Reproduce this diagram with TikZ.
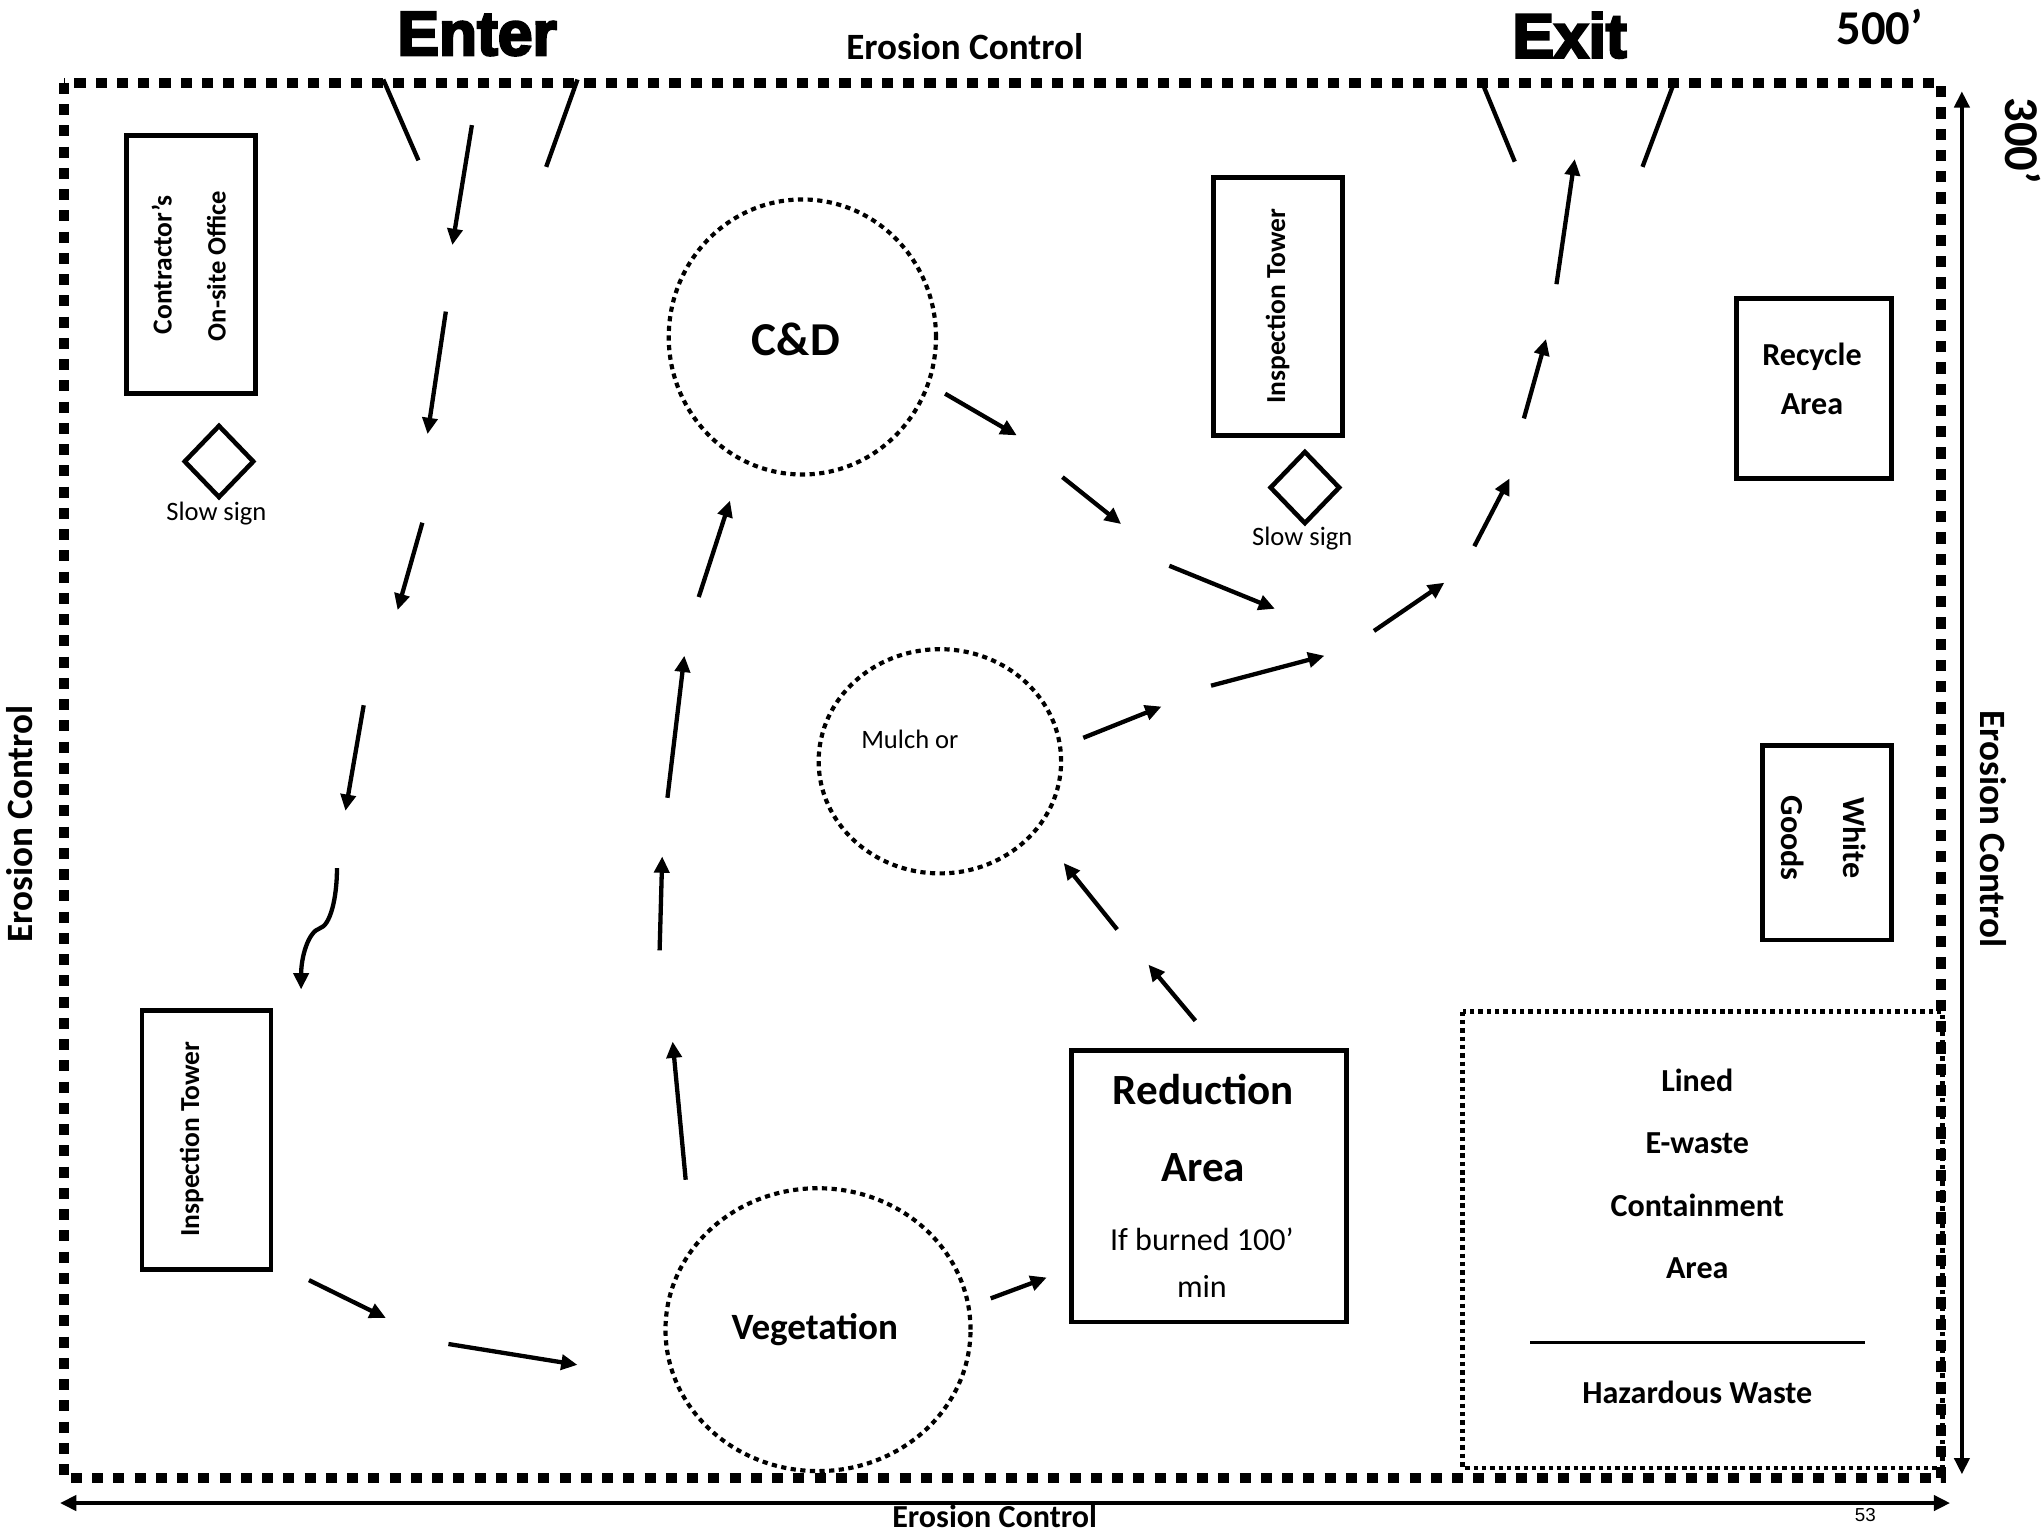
\documentclass[tikz,border=0pt]{standalone}
\usepackage{fontspec}
\setmainfont{Carlito}
\newfontfamily\heavyfont[BoldFeatures={FakeBold=4}]{Liberation Sans}
\newfontfamily\pagefont{Liberation Sans}
\usetikzlibrary{arrows.meta}
\usetikzlibrary{positioning}
\usetikzlibrary{shapes.geometric}
\tikzset{
  perimeter/.style={line width=0.08cm, dash pattern=on 0.085cm off 0.078cm},
  pile/.style={draw, ellipse, line width=0.032cm, dash pattern=on 0.04cm off 0.034cm, inner sep=0pt},
  plot/.style={draw, line width=0.036cm, inner sep=0pt},
  sign/.style={draw, diamond, line width=0.035cm, minimum width=0.54cm, minimum height=0.56cm, inner sep=0pt},
  flow/.style={line width=0.033cm, -{Triangle[length=0.125cm, width=0.115cm]}},
  gate/.style={line width=0.033cm},
  extent/.style={line width=0.035cm, {Triangle[length=0.125cm, width=0.115cm]}-{Triangle[length=0.125cm, width=0.115cm]}},
  small/.style={font=\fontsize{5.8}{7}\selectfont},
  tower/.style={font=\bfseries\fontsize{6}{7}\selectfont, rotate=90},
  label/.style={font=\bfseries\fontsize{7}{9}\selectfont},
  erosion/.style={font=\bfseries\fontsize{8.1}{10}\selectfont},
  size/.style={font=\bfseries\fontsize{10.6}{12}\selectfont},
  big/.style={font=\bfseries\fontsize{9.4}{11}\selectfont},
  huge/.style={font=\heavyfont\bfseries\fontsize{13.6}{15}\selectfont}
}

\begin{document}
\begin{tikzpicture}[y=-1cm]
    \useasboundingbox (0, 0) rectangle (15.68, 11.745);

    % site boundary
    \draw [perimeter] (0.49, 0.635) rectangle (14.89, 11.34);

    \node [huge] (enter) at (3.66, 0.26) {Enter};
    \node [huge] (exit) at (12.04, 0.27) {Exit};
    \node [size] (length) at (14.42, 0.21) {500’};
    \node [size, rotate=-90] (width) at (15.52, 1.08) {300’};
    \node [erosion] (erosiontop) at (7.40, 0.36) {Erosion Control};
    \node [erosion, rotate=90] (erosionleft) at (0.15, 6.32) {Erosion Control};
    \node [erosion, rotate=-90] (erosionright) at (15.29, 6.36) {Erosion Control};
    \node [label, inner ysep=0pt] (erosionbottom) at (7.63, 11.635) {Erosion Control};
    \node [font=\pagefont\fontsize{4.1}{5}\selectfont] (page) at (14.31, 11.62) {53};

    \draw [extent] (15.05, 0.70) -- (15.05, 11.31);
    \draw [extent] (0.46, 11.53) -- (14.96, 11.53);

    % gates
    \draw [gate] (2.94, 0.61) -- (3.21, 1.23);
    \draw [gate] (4.43, 0.61) -- (4.19, 1.28);
    \draw [gate] (11.36, 0.61) -- (11.62, 1.24);
    \draw [gate] (12.84, 0.64) -- (12.60, 1.28);

    % buildings and areas
    \draw [plot] (0.97, 1.04) rectangle (1.96, 3.02);
    \node [tower] (contractor) at (1.24, 2.03) {Contractor’s};
    \node [tower, font=\bfseries\fontsize{5.8}{7}\selectfont] (office) at (1.66, 2.04) {On-site Office};
    \node [sign] (signa) at (1.68, 3.54) {};
    \node [small] (signatext) at (1.66, 3.94) {Slow sign};

    \draw [plot] (9.31, 1.36) rectangle (10.30, 3.34);
    \node [tower] (towerb) at (9.80, 2.35) {Inspection Tower};
    \node [sign] (signb) at (10.01, 3.74) {};
    \node [small] (signbtext) at (9.99, 4.13) {Slow sign};

    \draw [plot] (13.32, 2.29) rectangle (14.51, 3.67);
    \node [label] (recycle) at (13.90, 2.74) {Recycle};
    \node [label] (recyclearea) at (13.90, 3.10) {Area};

    \draw [plot] (13.52, 5.72) rectangle (14.51, 7.21);
    \node [label, rotate=-90] (white) at (14.23, 6.43) {White};
    \node [label, rotate=-90] (goods) at (13.75, 6.43) {Goods};

    \draw [plot] (1.09, 7.75) rectangle (2.08, 9.74);
    \node [tower] (towera) at (1.47, 8.74) {Inspection Tower};

    \draw [plot] (8.22, 8.06) rectangle (10.33, 10.14);
    \node [big] (reduction) at (9.23, 8.36) {Reduction};
    \node [big] (reductionarea) at (9.23, 8.96) {Area};
    \node [font=\fontsize{7}{8}\selectfont] (burned) at (9.22, 9.51) {If burned 100’};
    \node [font=\fontsize{7}{8}\selectfont] (burnedmin) at (9.22, 9.87) {min};

    \draw [line width=0.036cm, dash pattern=on 0.034cm off 0.03cm] (11.22, 7.76) rectangle (14.90, 11.26);
    \node [label] (lined) at (13.02, 8.29) {Lined};
    \node [label] (ewaste) at (13.02, 8.77) {E-waste};
    \node [label] (containment) at (13.02, 9.25) {Containment};
    \node [label] (linedarea) at (13.02, 9.73) {Area};
    \draw [line width=0.024cm] (11.74, 10.30) -- (14.31, 10.30);
    \node [label] (hazardous) at (13.02, 10.68) {Hazardous Waste};

    % piles
    \node [pile, minimum width=2.05cm, minimum height=2.11cm] (cd) at (6.155, 2.585) {};
    \node [font=\bfseries\fontsize{10.3}{12}\selectfont] at (6.105, 2.60) {C\&D};
    \node [pile, minimum width=1.86cm, minimum height=1.72cm] (mulch) at (7.21, 5.84) {};
    \node [small] at (6.98, 5.67) {Mulch or};
    \node [pile, minimum width=2.34cm, minimum height=2.17cm] (vegetation) at (6.275, 10.20) {};
    \node [font=\bfseries\fontsize{8.1}{10}\selectfont] at (6.25, 10.20) {Vegetation};

    % traffic in
    \draw [flow] (3.62, 0.96) -- (3.47, 1.88);
    \draw [flow] (3.42, 2.39) -- (3.28, 3.33);
    \draw [flow] (3.24, 4.01) -- (3.05, 4.68);
    \draw [flow] (2.79, 5.41) -- (2.65, 6.22);
    \draw [flow] (2.585, 6.66) .. controls (2.585, 6.90) and (2.53, 7.10) .. (2.455, 7.12)
        .. controls (2.36, 7.15) and (2.31, 7.35) .. (2.31, 7.59);
    \draw [flow] (2.37, 9.82) -- (2.96, 10.11);
    \draw [flow] (3.44, 10.31) -- (4.43, 10.47);
    \draw [flow] (7.60, 9.96) -- (8.03, 9.80);

    % up to the C&D pile
    \draw [flow] (5.26, 9.05) -- (5.16, 7.99);
    \draw [flow] (5.06, 7.29) -- (5.08, 6.57);
    \draw [flow] (5.12, 6.12) -- (5.25, 5.03);
    \draw [flow] (5.36, 4.58) -- (5.60, 3.84);

    \draw [flow] (9.17, 7.83) -- (8.81, 7.40);
    \draw [flow] (8.57, 7.13) -- (8.16, 6.62);

    % traffic out
    \draw [flow] (7.25, 3.02) -- (7.80, 3.34);
    \draw [flow] (8.15, 3.66) -- (8.60, 4.02);
    \draw [flow] (8.97, 4.34) -- (9.78, 4.67);
    \draw [flow] (8.31, 5.66) -- (8.91, 5.42);
    \draw [flow] (9.29, 5.26) -- (10.16, 5.03);
    \draw [flow] (10.54, 4.84) -- (11.08, 4.47);
    \draw [flow] (11.31, 4.19) -- (11.58, 3.67);
    \draw [flow] (11.69, 3.21) -- (11.86, 2.60);
    \draw [flow] (11.94, 2.18) -- (12.08, 1.22);
\end{tikzpicture}
\end{document}
